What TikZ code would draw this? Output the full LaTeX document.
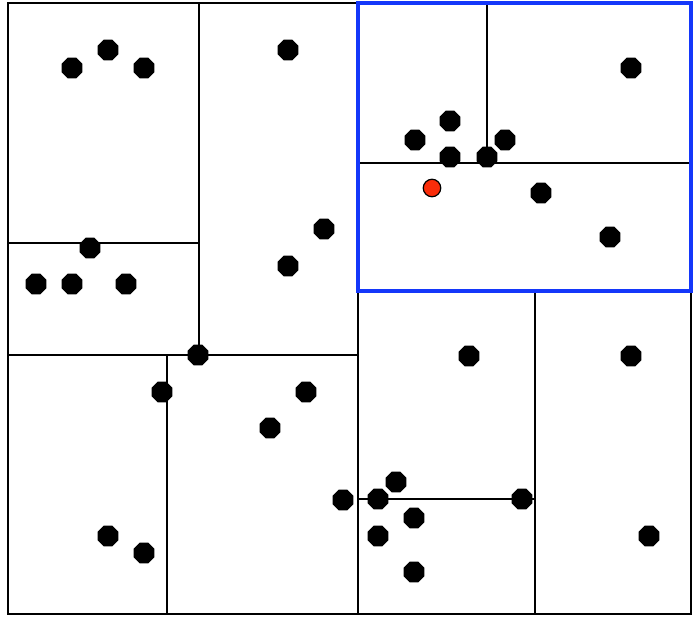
\documentclass[tikz,border=0pt]{standalone}
\usetikzlibrary{shapes.geometric}
\definecolor{cellblue}{RGB}{20,55,250}
\definecolor{qred}{RGB}{250,45,10}

\begin{document}
\begin{tikzpicture}[x=0.02cm,y=-0.02cm,
  cut/.style={draw,line width=1pt},
  pnt/.style={regular polygon,regular polygon sides=8,fill=black,minimum size=.45cm,inner sep=0pt},
  query/.style={circle,draw=black,fill=qred,line width=.7pt,minimum size=.35cm,inner sep=0pt}]
\useasboundingbox (0,0) rectangle (693,616);
% cells
\draw[cut,line width=1.4pt] (8,3) rectangle (691,614);
\draw[cut] (358,3)--(358,614);
\draw[cut] (199,3)--(199,355);
\draw[cut] (8,243)--(199,243);
\draw[cut] (8,355)--(358,355);
\draw[cut] (167,355)--(167,614);
\draw[cut] (487,3)--(487,163);
\draw[cut] (358,163)--(691,163);
\draw[cut] (535,291)--(535,614);
\draw[cut] (358,499)--(535,499);
\draw[cellblue,line width=2.2pt] (358,3) rectangle (691,291);
% points
\node[pnt] (p1) at (72,68) {};
\node[pnt] (p2) at (108,50) {};
\node[pnt] (p3) at (144,68) {};
\node[pnt] (p4) at (288,50) {};
\node[pnt] (p5) at (324,229) {};
\node[pnt] (p6) at (288,266) {};
\node[pnt] (p7) at (90,248) {};
\node[pnt] (p8) at (36,284) {};
\node[pnt] (p9) at (72,284) {};
\node[pnt] (p10) at (126,284) {};
\node[pnt] (p11) at (198,355) {};
\node[pnt] (p12) at (162,392) {};
\node[pnt] (p13) at (306,392) {};
\node[pnt] (p14) at (270,428) {};
\node[pnt] (p15) at (343,500) {};
\node[pnt] (p16) at (108,536) {};
\node[pnt] (p17) at (144,553) {};
\node[pnt] (p18) at (631,68) {};
\node[pnt] (p19) at (450,121) {};
\node[pnt] (p20) at (415,140) {};
\node[pnt] (p21) at (505,140) {};
\node[pnt] (p22) at (450,157) {};
\node[pnt] (p23) at (487,157) {};
\node[pnt] (p24) at (541,193) {};
\node[pnt] (p25) at (610,237) {};
\node[pnt] (p26) at (469,356) {};
\node[pnt] (p27) at (631,356) {};
\node[pnt] (p28) at (396,482) {};
\node[pnt] (p29) at (378,499) {};
\node[pnt] (p30) at (522,499) {};
\node[pnt] (p31) at (414,518) {};
\node[pnt] (p32) at (378,536) {};
\node[pnt] (p33) at (649,536) {};
\node[pnt] (p34) at (414,572) {};
\node[query] (q) at (432,188) {};
\end{tikzpicture}
\end{document}
